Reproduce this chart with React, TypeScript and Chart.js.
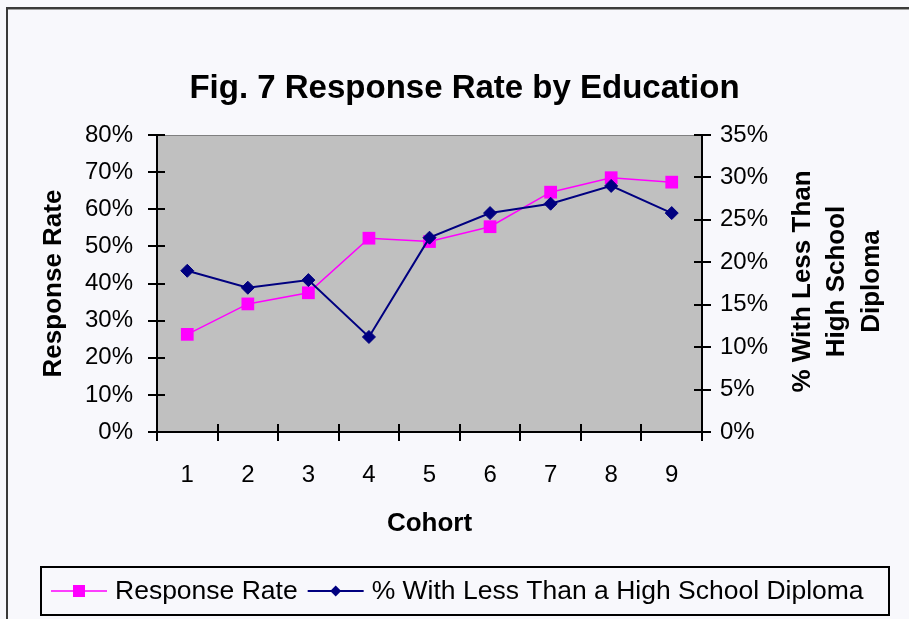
import React, { useEffect, useRef } from "react";
import { Chart, registerables } from "chart.js";

Chart.register(...registerables);
Chart.defaults.font.family = "'Liberation Sans', Arial, Helvetica, sans-serif";

const chartTitle = "Fig. 7 Response Rate by Education";
const xTitle = "Cohort";
const yTitle = "Response Rate";
const rightTitleLines = ["% With Less Than", "High School", "Diploma"];
const seriesNames = ["Response Rate", "% With Less Than a High School Diploma"];

const cohorts = ["1", "2", "3", "4", "5", "6", "7", "8", "9"];
const responseRate = [26.3, 34.5, 37.5, 52.2, 51.3, 55.3, 64.6, 68.5, 67.3];
const lessThanHS = [19.0, 17.0, 17.9, 11.2, 22.9, 25.8, 26.9, 29.0, 25.8];

const leftTicks = [0, 10, 20, 30, 40, 50, 60, 70, 80];
const rightTicks = [0, 5, 10, 15, 20, 25, 30, 35];

const PINK = "#ff00ff";
const NAVY = "#000080";

const backgroundPlugin = {
  id: "excelBackground",
  beforeDraw(chart: any) {
    const { ctx, chartArea } = chart;
    ctx.save();
    ctx.fillStyle = "#f8f8fc";
    ctx.fillRect(0, 0, chart.width, chart.height);
    ctx.fillStyle = "#3a3a3a";
    ctx.fillRect(6, 7, chart.width - 6, 2);
    ctx.fillRect(6, 7, 2, chart.height - 7);
    ctx.fillStyle = "#a0a0a0";
    ctx.fillRect(8, 9, chart.width - 8, 1);
    ctx.fillStyle = "#c0c0c0";
    ctx.fillRect(chartArea.left, chartArea.top, chartArea.right - chartArea.left, chartArea.bottom - chartArea.top);
    ctx.strokeStyle = "#808080";
    ctx.lineWidth = 1;
    ctx.strokeRect(chartArea.left + 0.5, chartArea.top + 0.5, chartArea.right - chartArea.left - 1, chartArea.bottom - chartArea.top - 1);
    ctx.restore();
  },
};

const crossTicksPlugin = {
  id: "crossTicks",
  afterDraw(chart: any) {
    const { ctx, chartArea, scales } = chart;
    const inner = 8;
    ctx.save();
    ctx.strokeStyle = "#000";
    ctx.lineWidth = 2;
    ctx.beginPath();
    const xs = scales.x;
    const n = xs.ticks.length;
    const bounds: number[] = [chartArea.left];
    for (let i = 1; i < n; i++) {
      bounds.push((xs.getPixelForTick(i - 1) + xs.getPixelForTick(i)) / 2);
    }
    bounds.push(chartArea.right);
    bounds.forEach((px) => {
      const p = Math.round(px);
      ctx.moveTo(p, chartArea.bottom);
      ctx.lineTo(p, chartArea.bottom - inner);
    });
    const yl = scales.y;
    yl.ticks.forEach((_t: any, i: number) => {
      const py = Math.round(yl.getPixelForTick(i));
      ctx.moveTo(chartArea.left, py);
      ctx.lineTo(chartArea.left + inner, py);
    });
    const yr = scales.y1;
    yr.ticks.forEach((_t: any, i: number) => {
      const py = Math.round(yr.getPixelForTick(i));
      ctx.moveTo(chartArea.right, py);
      ctx.lineTo(chartArea.right - inner, py);
    });
    ctx.stroke();
    ctx.restore();
  },
};

const rightTitlePlugin = {
  id: "rightTitle",
  afterDraw(chart: any) {
    const { ctx, chartArea, scales } = chart;
    const yr = scales.y1;
    const offsets = [101, 135, 170];
    const cy = (chartArea.top + chartArea.bottom) / 2 - 2;
    ctx.save();
    ctx.fillStyle = "#000";
    ctx.font = "bold 26px 'Liberation Sans', Arial, sans-serif";
    ctx.textAlign = "center";
    ctx.textBaseline = "middle";
    rightTitleLines.forEach((line, i) => {
      ctx.save();
      ctx.translate(yr.left + offsets[i], cy);
      ctx.rotate(-Math.PI / 2);
      ctx.fillText(line, 0, 0);
      ctx.restore();
    });
    ctx.restore();
  },
};

const legendPlugin = {
  id: "excelLegend",
  afterDraw(chart: any) {
    const { ctx } = chart;
    const boxW = 848;
    const boxH = 48;
    const left = 20;
    const boxX = Math.round((left + chart.width - boxW) / 2);
    const boxY = 567;
    ctx.save();
    ctx.strokeStyle = "#000";
    ctx.lineWidth = 2;
    ctx.strokeRect(boxX, boxY, boxW, boxH);
    ctx.font = "26.5px 'Liberation Sans', Arial, sans-serif";
    ctx.textBaseline = "middle";
    ctx.textAlign = "left";
    const cy = boxY + boxH / 2;
    let x = boxX + 10;
    chart.data.datasets.forEach((ds: any) => {
      const lineLen = 56;
      ctx.strokeStyle = ds.borderColor;
      ctx.lineWidth = ds.borderWidth;
      ctx.beginPath();
      ctx.moveTo(x, cy);
      ctx.lineTo(x + lineLen, cy);
      ctx.stroke();
      const mx = x + lineLen / 2;
      ctx.fillStyle = ds.backgroundColor;
      if (ds.pointStyle === "rect") {
        ctx.fillRect(mx - 6, cy - 6, 12, 12);
      } else {
        const r = 5.5;
        ctx.beginPath();
        ctx.moveTo(mx - r, cy);
        ctx.lineTo(mx, cy - r);
        ctx.lineTo(mx + r, cy);
        ctx.lineTo(mx, cy + r);
        ctx.closePath();
        ctx.fill();
      }
      x += lineLen + 8;
      ctx.fillStyle = "#000";
      ctx.fillText(ds.label, x, cy + 1);
      x += ctx.measureText(ds.label).width + 10;
    });
    ctx.restore();
  },
};

export default function App() {
  const canvasRef = useRef<HTMLCanvasElement | null>(null);

  useEffect(() => {
    if (!canvasRef.current) return;
    const tickFont = { size: 24 };
    const titleFont = { size: 26, weight: "bold" as const };
    const chart = new Chart(canvasRef.current, {
      type: "line",
      data: {
        labels: cohorts,
        datasets: [
          {
            label: seriesNames[0],
            data: responseRate,
            yAxisID: "y",
            borderColor: PINK,
            backgroundColor: PINK,
            borderWidth: 1.5,
            pointStyle: "rect",
            pointRadius: 9,
            pointBorderWidth: 0,
            pointBackgroundColor: PINK,
            tension: 0,
            order: 1,
          },
          {
            label: seriesNames[1],
            data: lessThanHS,
            yAxisID: "y1",
            borderColor: NAVY,
            backgroundColor: NAVY,
            borderWidth: 2,
            pointStyle: "rectRot",
            pointRadius: 6.5,
            pointBorderWidth: 1,
            pointBackgroundColor: NAVY,
            tension: 0,
            order: 0,
          },
        ] as any,
      },
      options: {
        responsive: false,
        animation: false,
        layout: { padding: { left: 20, right: 0, top: 0, bottom: 59 } },
        plugins: {
          legend: { display: false },
          tooltip: { enabled: false },
          title: {
            display: true,
            text: chartTitle,
            color: "#000",
            font: { size: 33, weight: "bold" },
            padding: { top: 69, bottom: 26.4 },
          },
        },
        scales: {
          x: {
            type: "category",
            offset: true,
            grid: { offset: true, drawOnChartArea: false, tickLength: 9, color: "#000", lineWidth: 2 },
            border: { display: true, color: "#000", width: 2 },
            ticks: { color: "#000", font: tickFont, padding: 20, maxRotation: 0, autoSkip: false },
            title: { display: true, text: xTitle, color: "#000", font: titleFont, padding: { top: 0, bottom: 21 } },
            afterFit: (s: any) => {
              s.height = 128;
            },
          },
          y: {
            position: "left",
            min: leftTicks[0],
            max: leftTicks[leftTicks.length - 1],
            grid: { drawOnChartArea: false, tickLength: 9, color: "#000", lineWidth: 2 },
            border: { display: true, color: "#000", width: 2 },
            ticks: {
              stepSize: leftTicks[1] - leftTicks[0],
              color: "#000",
              font: tickFont,
              padding: 15,
              callback: (v: any) => v + "%",
            },
            title: { display: true, text: yTitle, color: "#000", font: titleFont, padding: { top: 18, bottom: 0 } },
            afterFit: (s: any) => {
              s.width = 137;
            },
          },
          y1: {
            position: "right",
            min: rightTicks[0],
            max: rightTicks[rightTicks.length - 1],
            grid: { drawOnChartArea: false, tickLength: 9, color: "#000", lineWidth: 2 },
            border: { display: true, color: "#000", width: 2 },
            ticks: {
              stepSize: rightTicks[1] - rightTicks[0],
              color: "#000",
              font: tickFont,
              padding: 9,
              callback: (v: any) => v + "%",
            },
            afterFit: (s: any) => {
              s.width = 207;
            },
          },
        },
      } as any,
      plugins: [backgroundPlugin, crossTicksPlugin, rightTitlePlugin, legendPlugin],
    });
    return () => chart.destroy();
  }, []);

  return (
    <div style={{ position: "absolute", left: 0, top: 0, width: 909, height: 619 }}>
      <canvas ref={canvasRef} width={909} height={619} style={{ display: "block" }} />
    </div>
  );
}
